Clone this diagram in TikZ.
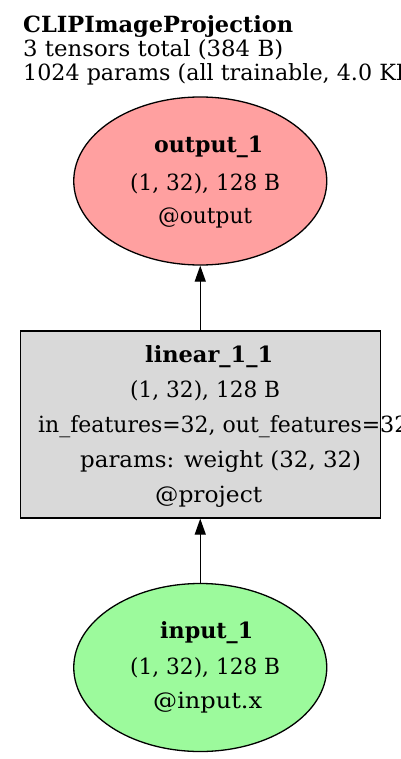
\documentclass[tikz,border=0pt]{standalone}
\usepackage{fontspec}
\usepackage{graphicx}
\setmainfont{DejaVu Serif}[BoldFont={DejaVu Serif Bold}]
\usetikzlibrary{shapes.geometric,arrows.meta}
\definecolor{outfill}{HTML}{FFA0A0}
\definecolor{infill}{HTML}{9CFA9C}
\definecolor{boxfill}{HTML}{D9D9D9}
\newcommand\fitw[2]{\resizebox{#1}{\height}{#2}}
\tikzset{
  lbl/.style={anchor=base west, inner sep=0pt, font=\fontsize{22.3}{26}\selectfont},
  blbl/.style={anchor=base west, inner sep=0pt, font=\fontsize{22.3}{26}\selectfont\bfseries},
  ell/.style={ellipse, draw, line width=1.3pt, inner sep=0pt, minimum width=253pt, minimum height=168pt},
  conn/.style={line width=1.3pt, -{Triangle[length=16pt,width=11pt]}}
}
\begin{document}
\begin{tikzpicture}[x=1pt,y=-1pt]
\useasboundingbox (0,0) rectangle (400,759);
\fill[white] (0,0) rectangle (400,759);
% header
\node[blbl] (h1) at (23,33) {\fitw{270pt}{CLIPImageProjection}};
\node[lbl] (h2) at (23,57) {\fitw{260pt}{3 tensors total (384 B)}};
\node[lbl] (h3) at (23,81) {\fitw{349pt}{1024 params (all trainable, 4.0} KB)};
% output ellipse
\node[ell, fill=outfill] (out) at (200.25,181) {};
\node[blbl] (o1) at (154,153) {\fitw{109pt}{output\_1}};
\node[lbl] (o2) at (130,191) {\fitw{150pt}{(1, 32), 128 B}};
\node[lbl] (o3) at (158,224) {\fitw{94pt}{@output}};
% linear box
\node[draw, fill=boxfill, line width=1.3pt, minimum width=360pt, minimum height=187pt, inner sep=0pt] (lin) at (200.25,424.5) {};
\node[blbl] (l1) at (145,362) {\fitw{128pt}{linear\_1\_1}};
\node[lbl] (l2) at (130,397) {\fitw{150pt}{(1, 32), 128 B}};
\node[lbl] (l3) at (38,432) {\fitw{342pt}{in\_features=32, out\_features=}32};
\node[lbl] (l4) at (80,467) {\fitw{281pt}{params: weight (32, 32)}};
\node[lbl] (l5) at (155,502) {\fitw{107pt}{@project}};
% input ellipse
\node[ell, fill=infill] (in) at (200.25,667.5) {};
\node[blbl] (i1) at (160,638) {\fitw{93pt}{input\_1}};
\node[lbl] (i2) at (130,674) {\fitw{150pt}{(1, 32), 128 B}};
\node[lbl] (i3) at (153,708) {\fitw{109pt}{@input.x}};
% connectors
\draw[conn] (lin.north) -- (out.south);
\draw[conn] (in.north) -- (lin.south);
\end{tikzpicture}
\end{document}
